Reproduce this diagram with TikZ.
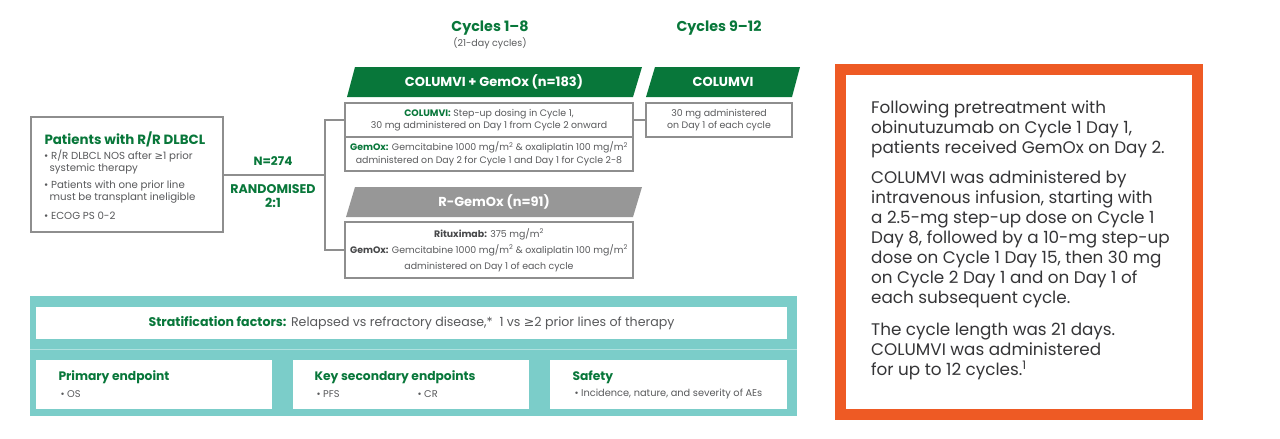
\documentclass[tikz,border=0pt]{standalone}
\usepackage{fontspec}
\setmainfont{Poppins}
\newfontfamily\symfont{DejaVu Sans}
\usetikzlibrary{positioning}
\pgfdeclarelayer{background}
\pgfsetlayers{background,main}
\definecolor{trialgreen}{HTML}{08773A}
\definecolor{boxgrey}{HTML}{8E8E8E}
\definecolor{bannergrey}{HTML}{979797}
\definecolor{textgrey}{HTML}{58595B}
\definecolor{bandteal}{HTML}{7BCDC9}
\definecolor{noteorange}{HTML}{EE5A24}
\newcommand{\atleast}{{\symfont\char"2265}}
\newcommand{\msq}{mg/m\textsuperscript{2}}
\newcommand{\gr}[1]{\textbf{\color{trialgreen}#1}}

\begin{document}
\begin{tikzpicture}[x=1pt,y=-1pt,
							greybox/.style={draw=boxgrey, line width=2pt, fill=white, inner sep=0pt, text=textgrey, align=center},
							whitebox/.style={fill=white, inner sep=0pt, text=textgrey},
							bannertext/.style={text=white, font=\bfseries\fontsize{13}{15}\selectfont},
							boxtext/.style={font=\fontsize{9.4}{12.5}\selectfont},
							headtext/.style={text=trialgreen, font=\bfseries\fontsize{14.3}{16}\selectfont},
							bullettext/.style={text=textgrey, font=\fontsize{9.8}{11}\selectfont, anchor=west},
							endtitle/.style={text=trialgreen, font=\bfseries\fontsize{12.3}{14}\selectfont, anchor=west},
							link/.style={draw=boxgrey, line width=2pt},
							]
							\useasboundingbox (0,0) rectangle (1280,439);
							%Headers
							\node[headtext]    (head1)   at (490,28)    {Cycles 1--8};
							\node[text=textgrey, font=\fontsize{9.5}{11}\selectfont] (head1sub) at (490,43) {(21-day cycles)};
							\node[headtext]    (head2)   at (719,28)    {Cycles 9--12};
							
							%Banners
							\fill[trialgreen] (347,97) -- (355,67) -- (642,67) -- (633,97) -- cycle;
							\fill[trialgreen] (646,97) -- (655,67) -- (800,67) -- (792,97) -- cycle;
							\fill[bannergrey] (346,217) -- (355,187) -- (642,187) -- (633,217) -- cycle;
							\node[bannertext]  (ban1)    at (494,82)    {COLUMVI + GemOx (n=183)};
							\node[bannertext]  (ban2)    at (723,82)    {COLUMVI};
							\node[bannertext]  (ban3)    at (494,202)   {R-GemOx (n=91)};
							
							%Patients
							\node[greybox, minimum width=192, minimum height=115] (patients) at (127,174.5) {};
							\node[headtext, font=\bfseries\fontsize{13.4}{15}\selectfont, anchor=west] (ptitle) at (41,139) {Patients with R/R DLBCL};
							\node[text=textgrey, font=\fontsize{10.2}{12.5}\selectfont, align=left, anchor=north west, inner sep=0pt] (pbullets) at (44,150)
								{\textbullet\ R/R DLBCL NOS after \atleast1 prior\\[-1pt]
								\ \ systemic therapy\\[5pt]
								\textbullet\ Patients with one prior line\\[-1pt]
								\ \ must be transplant ineligible\\[6.5pt]
								\textbullet\ ECOG PS 0-2};
							\node[headtext, font=\bfseries\fontsize{12}{13}\selectfont] (nlabel) at (273,161) {N=274};
							\node[headtext, font=\bfseries\fontsize{12.6}{13.5}\selectfont, align=center] (rlabel) at (273,196) {RANDOMISED\\2:1};
							\coordinate (split) at (325,174.5);
							
							%Arm boxes
							\node[greybox, boxtext, minimum width=288, minimum height=34] (colbox) at (489,120)
								{\gr{COLUMVI:} Step-up dosing in Cycle 1,\\30 mg administered on Day 1 from Cycle 2 onward};
							\node[greybox, boxtext, minimum width=288, minimum height=34] (gembox) at (489,154)
								{\gr{GemOx:} Gemcitabine 1000 \msq{} \& oxaliplatin 100 \msq\\administered on Day 2 for Cycle 1 and Day 1 for Cycle 2-8};
							\node[greybox, boxtext, minimum width=146, minimum height=34] (col2box) at (719,120)
								{30 mg administered\\on Day 1 of each cycle};
							\node[greybox, boxtext, font=\fontsize{9.4}{16}\selectfont, minimum width=288, minimum height=56] (rgbox) at (489,250)
								{\textbf{\color{textgrey!80!black}Rituximab:} 375 \msq\\\textbf{\color{textgrey!80!black}GemOx:} Gemcitabine 1000 \msq{} \& oxaliplatin 100 \msq\\administered on Day 1 of each cycle};
							
							%Bottom band
							\node[whitebox, minimum width=751, minimum height=32, font=\fontsize{12.6}{14}\selectfont] (strat) at (411.5,323)
								{\gr{Stratification factors:} Relapsed vs refractory disease,*\ \ 1 vs \atleast2 prior lines of therapy};
							\node[whitebox, minimum width=236, minimum height=49] (primary) at (154,384.5) {};
							\node[whitebox, minimum width=236, minimum height=49] (secondary) at (411,384.5) {};
							\node[whitebox, minimum width=237, minimum height=49] (safety) at (668.5,384.5) {};
							\node[endtitle] (ptit) at (55,377) {Primary endpoint};
							\node[endtitle] (stit) at (311,377) {Key secondary endpoints};
							\node[endtitle] (ftit) at (569,377) {Safety};
							\node[bullettext] (pb) at (57,394) {\textbullet\ OS};
							\node[bullettext] (sb1) at (313,394) {\textbullet\ PFS};
							\node[bullettext] (sb2) at (414,394) {\textbullet\ CR};
							\node[bullettext] (fb) at (571,394) {\textbullet\ Incidence, nature, and severity of AEs};
							
							%Note
							\node[draw=noteorange, line width=11pt, fill=white, minimum width=357, minimum height=345, inner sep=0pt] (note) at (1019,242) {};
							\node[text=textgrey!60!black, font=\fontsize{16.8}{20}\selectfont, align=left, anchor=north west, inner sep=0pt] (notetext) at (871,101)
								{Following pretreatment with\\
								obinutuzumab on Cycle 1 Day 1,\\
								patients received GemOx on Day 2.\\[10pt]
								COLUMVI was administered by\\
								intravenous infusion, starting with\\
								a 2.5-mg step-up dose on Cycle 1\\
								Day 8, followed by a 10-mg step-up\\
								dose on Cycle 1 Day 15, then 30 mg\\
								on Cycle 2 Day 1 and on Day 1 of\\
								each subsequent cycle.\\[12pt]
								The cycle length was 21 days.\\
								COLUMVI was administered\\
								for up to 12 cycles.\textsuperscript{1}};
							
							\begin{pgfonlayer}{background}
							\fill[bandteal] (30,296) rectangle (797,416);
							\draw[bandteal!60!white, line width=1pt] (30,349) -- (797,349);
							\draw[link] (patients.east) -- (split);
							\draw[link] (colbox.west) -| (split) |- (rgbox.west);
							\draw[link] (colbox.east) -- (col2box.west);
							\end{pgfonlayer}
						\end{tikzpicture}
\end{document}
